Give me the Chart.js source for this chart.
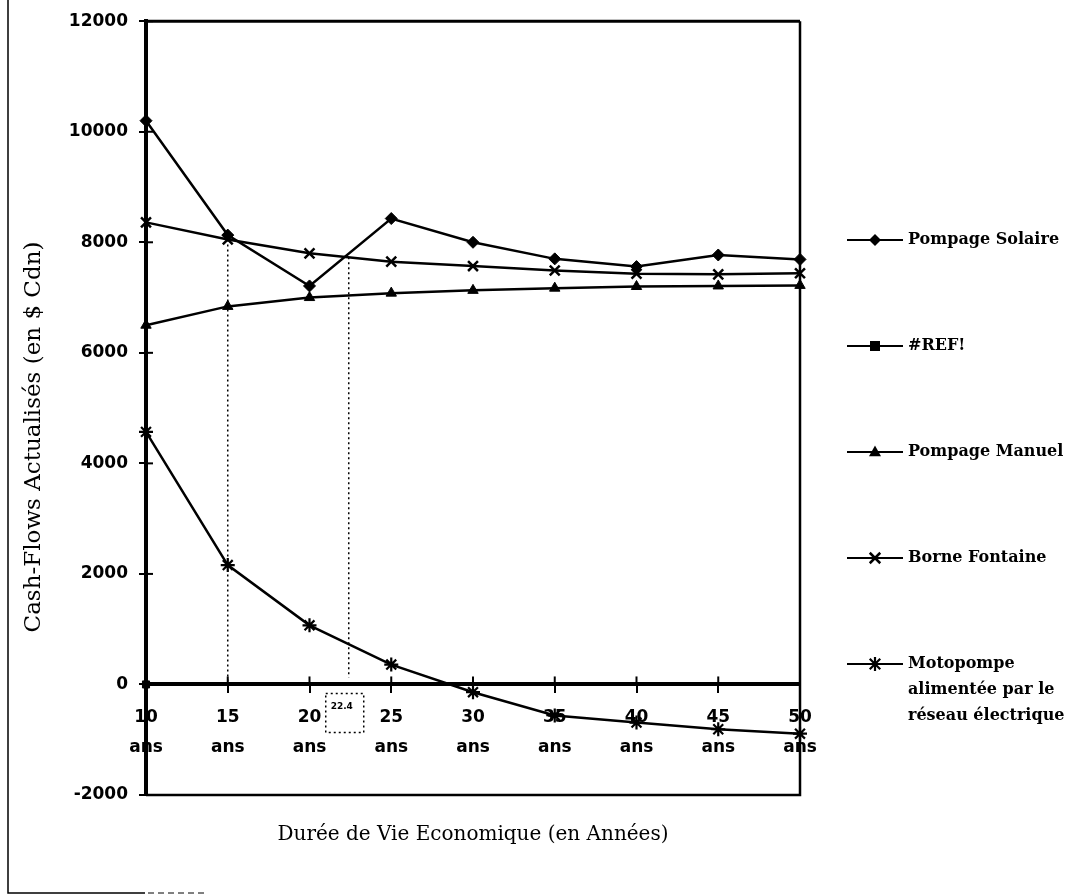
<!DOCTYPE html>
<html lang="fr">
<head>
<meta charset="utf-8">
<title>Cash-Flows Actualisés</title>
<script src="https://cdn.jsdelivr.net/npm/chart.js@4.4.1/dist/chart.umd.min.js"></script>
<style>
  html, body { margin: 0; padding: 0; background: #fff; }
  #wrap { width: 1082px; height: 895px; }
</style>
</head>
<body>
<div id="wrap"><canvas id="c" width="1082" height="895"></canvas></div>
<script>
// Durée de vie économique (années)
const years = [10, 15, 20, 25, 30, 35, 40, 45, 50];
const yearLabels = years.map(y => [String(y), 'ans']);

// Cash-flows actualisés (en $ Cdn)
const pompageSolaire = [10200, 8130, 7210, 8430, 8000, 7700, 7560, 7770, 7690];
const refErreur      = [0, null, null, null, null, null, null, null, null];
const pompageManuel  = [6500, 6840, 7000, 7080, 7130, 7170, 7200, 7210, 7220];
const borneFontaine  = [8360, 8050, 7800, 7650, 7570, 7490, 7430, 7420, 7440];
const motopompe      = [4570, 2160, 1070, 360, -140, -560, -690, -810, -890];

const yMin = -2000, yMax = 12000, yStep = 2000;
const seuil = 22.4;   // durée où Pompage Solaire rejoint Borne Fontaine

const INK = '#000';
Chart.defaults.font.family = 'DejaVu Sans';
Chart.defaults.color = INK;

function marker(ctx, style, x, y, r) {
  ctx.beginPath();
  switch (style) {
    case 'rectRot':
      ctx.moveTo(x, y - r); ctx.lineTo(x + r, y); ctx.lineTo(x, y + r); ctx.lineTo(x - r, y);
      ctx.closePath(); ctx.fill(); break;
    case 'rect':
      ctx.rect(x - r, y - r, 2 * r, 2 * r); ctx.fill(); break;
    case 'triangle':
      ctx.moveTo(x, y - r * 1.1); ctx.lineTo(x + r, y + r * 0.7); ctx.lineTo(x - r, y + r * 0.7);
      ctx.closePath(); ctx.fill(); break;
    case 'crossRot': {
      const d = r * 0.75;
      ctx.moveTo(x - d, y - d); ctx.lineTo(x + d, y + d);
      ctx.moveTo(x + d, y - d); ctx.lineTo(x - d, y + d); ctx.stroke(); break;
    }
    case 'star': {
      const d = r * 0.75;
      ctx.moveTo(x - d, y - d); ctx.lineTo(x + d, y + d);
      ctx.moveTo(x + d, y - d); ctx.lineTo(x - d, y + d);
      ctx.moveTo(x, y - r); ctx.lineTo(x, y + r);
      ctx.moveTo(x - r, y); ctx.lineTo(x + r, y); ctx.stroke(); break;
    }
  }
}

// Frame, inner tick halves, dotted guides and the side legend
const decor = {
  id: 'decor',
  beforeDatasetsDraw(chart) {
    const { ctx, chartArea: a, scales: { x, y } } = chart;
    ctx.save();
    ctx.strokeStyle = INK;
    // plot frame (top, right, bottom)
    ctx.lineWidth = 3;
    ctx.beginPath(); ctx.moveTo(a.left, a.top); ctx.lineTo(a.right, a.top); ctx.stroke();
    ctx.lineWidth = 2.5;
    ctx.beginPath(); ctx.moveTo(a.right, a.top); ctx.lineTo(a.right, a.bottom);
    ctx.lineTo(a.left, a.bottom); ctx.stroke();

    // tick marks crossing to the inside
    ctx.lineWidth = 2;
    y.ticks.forEach((t, i) => {
      const py = y.getPixelForTick(i);
      ctx.beginPath(); ctx.moveTo(a.left, py); ctx.lineTo(a.left + 7, py); ctx.stroke();
    });
    const zero = y.getPixelForValue(0);
    x.ticks.forEach((t, i) => {
      const px = x.getPixelForTick(i);
      ctx.beginPath(); ctx.moveTo(px, zero); ctx.lineTo(px, zero - 8); ctx.stroke();
    });

    // dotted guides
    ctx.lineWidth = 1.5;
    ctx.setLineDash([2, 3]);
    const i15 = years.indexOf(15);
    const p15 = x.getPixelForValue(i15);
    ctx.beginPath();
    ctx.moveTo(p15, y.getPixelForValue(borneFontaine[i15]));
    ctx.lineTo(p15, zero - 2);
    ctx.stroke();

    const idx = (seuil - years[0]) / (years[1] - years[0]);
    const i0 = Math.floor(idx), t = idx - i0;
    const vCross = borneFontaine[i0] + (borneFontaine[i0 + 1] - borneFontaine[i0]) * t;
    const ps = x.getPixelForValue(idx);
    ctx.beginPath();
    ctx.moveTo(ps, y.getPixelForValue(vCross));
    ctx.lineTo(ps, zero - 7);
    ctx.stroke();

    ctx.strokeRect(ps - 23, zero + 9, 38, 39);
    ctx.setLineDash([]);
    ctx.fillStyle = INK;
    ctx.font = 'bold 9px DejaVu Sans';
    ctx.textAlign = 'center';
    ctx.textBaseline = 'middle';
    ctx.fillText(seuil.toFixed(1), ps - 7, zero + 22);
    ctx.restore();
  },
  afterDraw(chart, args, opts) {
    const { ctx, chartArea: a } = chart;
    ctx.save();
    ctx.strokeStyle = INK;
    ctx.fillStyle = INK;

    // page border, left and bottom
    ctx.lineWidth = 1.5;
    ctx.beginPath(); ctx.moveTo(8, 0); ctx.lineTo(8, 893); ctx.lineTo(145, 893); ctx.stroke();
    ctx.lineWidth = 1;
    ctx.setLineDash([6, 4]);
    ctx.beginPath(); ctx.moveTo(148, 893); ctx.lineTo(205, 893); ctx.stroke();
    ctx.setLineDash([]);

    // y axis title
    ctx.save();
    ctx.translate(opts.yTitleX, opts.yTitleY);
    ctx.rotate(-Math.PI / 2);
    ctx.font = '23px DejaVu Serif';
    ctx.textAlign = 'center';
    ctx.textBaseline = 'middle';
    ctx.fillText(opts.yTitle, 0, 0);
    ctx.restore();

    // legend
    ctx.font = 'bold 16px DejaVu Serif';
    ctx.textAlign = 'left';
    ctx.textBaseline = 'middle';
    chart.data.datasets.forEach((ds, i) => {
      const ly = opts.top + i * opts.gap;
      ctx.lineWidth = 2;
      ctx.beginPath(); ctx.moveTo(opts.x, ly); ctx.lineTo(opts.x + opts.len, ly); ctx.stroke();
      ctx.lineWidth = ds.pointBorderWidth;
      marker(ctx, ds.pointStyle, opts.x + opts.len / 2, ly, ds.pointRadius);
      ds.label.split('\n').forEach((line, k) => {
        ctx.fillText(line, opts.textX, ly + k * opts.lineGap);
      });
    });
    ctx.restore();
  }
};

const base = {
  borderColor: INK, backgroundColor: INK, pointBackgroundColor: INK, pointBorderColor: INK,
  borderWidth: 2.5, tension: 0, clip: false, pointHoverRadius: 0
};

new Chart(document.getElementById('c'), {
  type: 'line',
  data: {
    labels: yearLabels,
    datasets: [
      { ...base, label: 'Pompage Solaire', data: pompageSolaire,
        pointStyle: 'rectRot', pointRadius: 6, pointBorderWidth: 1 },
      { ...base, label: '#REF!', data: refErreur,
        pointStyle: 'rect', pointRadius: 5, pointBorderWidth: 1 },
      { ...base, label: 'Pompage Manuel', data: pompageManuel,
        pointStyle: 'triangle', pointRadius: 6, pointBorderWidth: 1 },
      { ...base, label: 'Borne Fontaine', data: borneFontaine,
        pointStyle: 'crossRot', pointRadius: 7, pointBorderWidth: 2.5 },
      { ...base, label: 'Motopompe\nalimentée par le\nréseau électrique', data: motopompe,
        pointStyle: 'star', pointRadius: 7, pointBorderWidth: 2.2 }
    ]
  },
  options: {
    responsive: false,
    animation: false,
    events: [],
    layout: { padding: { left: 0, top: 20, right: 282, bottom: 48 } },
    plugins: {
      legend: { display: false },
      tooltip: { enabled: false },
      title: {
        display: true,
        position: 'bottom',
        fullSize: false,
        text: 'Durée de Vie Economique (en Années)',
        color: INK,
        font: { family: 'DejaVu Serif', size: 20, weight: 'normal' },
        padding: { top: 28, bottom: 0 }
      },
      decor: {
        yTitle: 'Cash-Flows Actualisés (en $ Cdn)', yTitleX: 34, yTitleY: 437,
        x: 847, len: 56, textX: 908, top: 240, gap: 106, lineGap: 26
      }
    },
    scales: {
      x: {
        type: 'category',
        position: { y: 0 },
        offset: false,
        border: { display: true, color: INK, width: 4 },
        grid: { drawOnChartArea: false, drawTicks: true, tickLength: 7, color: INK, lineWidth: 2 },
        ticks: {
          autoSkip: false, maxRotation: 0, padding: 11, color: INK,
          font: { family: 'DejaVu Sans', size: 17, weight: 'bold', lineHeight: 1.76 }
        }
      },
      y: {
        min: yMin, max: yMax,
        border: { display: true, color: INK, width: 4 },
        grid: { drawOnChartArea: false, drawTicks: true, tickLength: 7, color: INK, lineWidth: 2 },
        ticks: {
          stepSize: yStep, padding: 11, color: INK,
          font: { family: 'DejaVu Sans', size: 17, weight: 'bold' },
          callback: v => String(v)
        },
        afterFit(scale) { scale.width = 146; }
      }
    }
  },
  plugins: [decor]
});
</script>
</body>
</html>
